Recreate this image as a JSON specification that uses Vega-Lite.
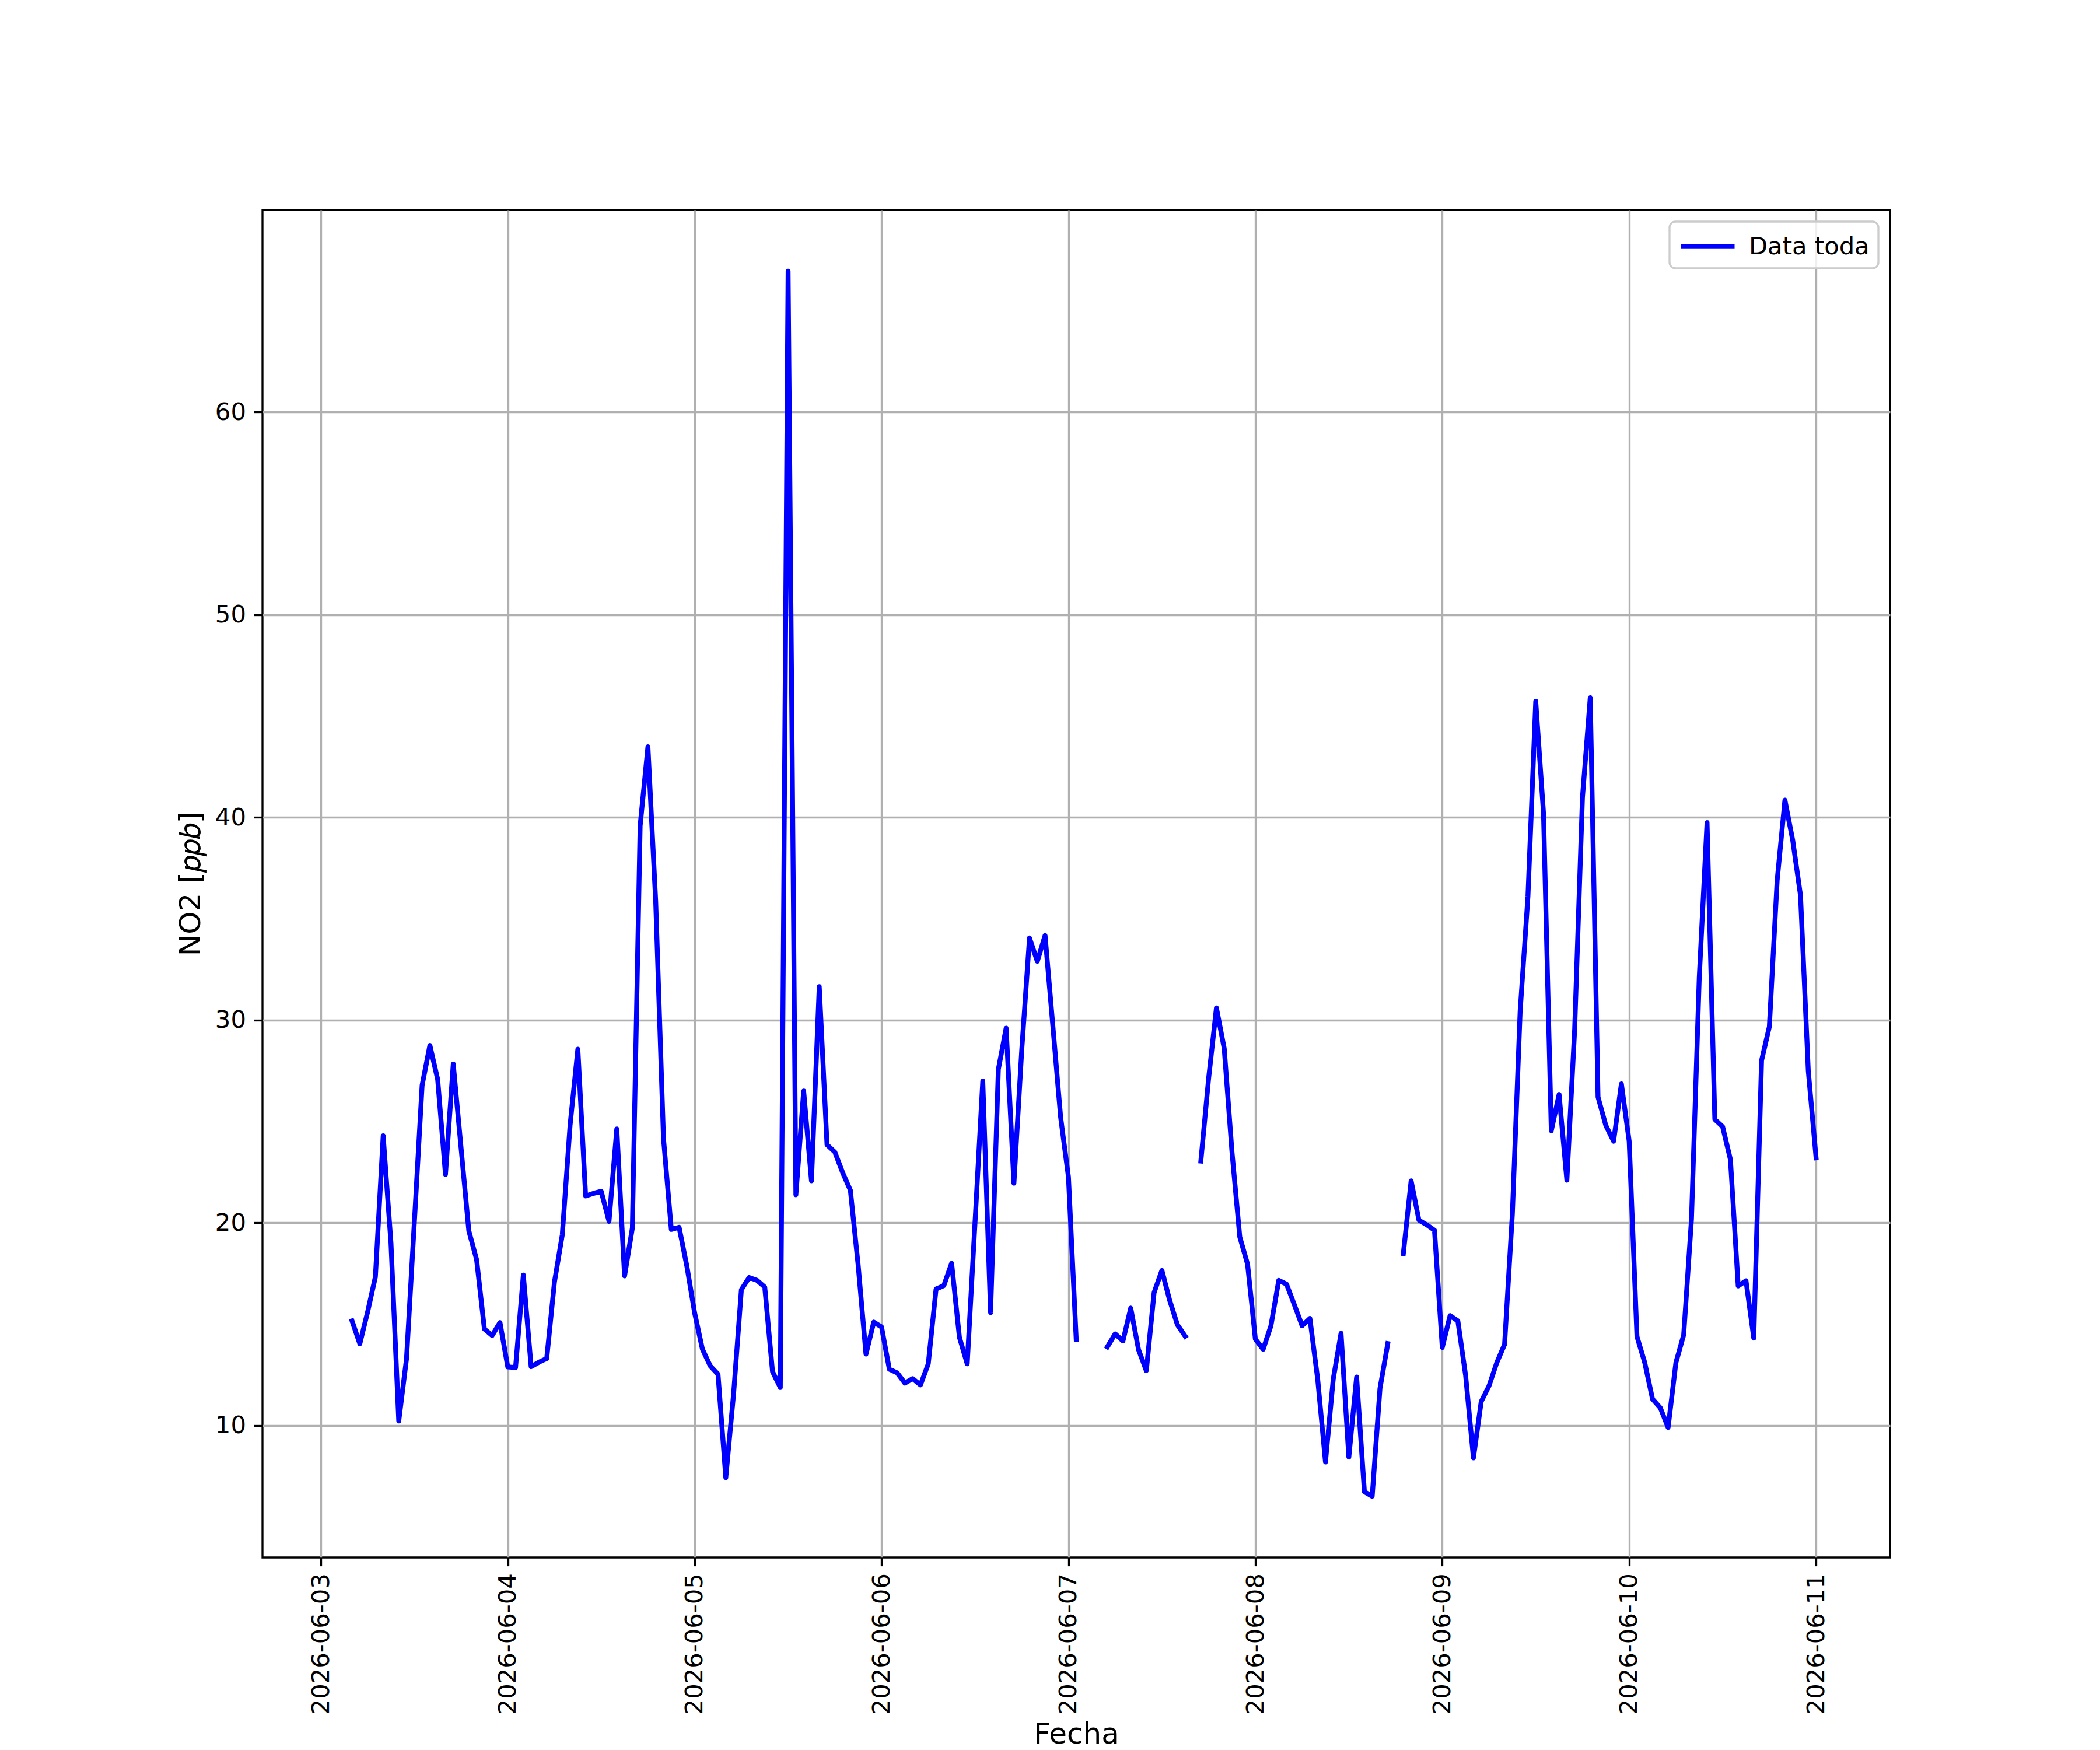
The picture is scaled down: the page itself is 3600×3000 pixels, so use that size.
{
  "$schema": "https://vega.github.io/schema/vega-lite/v6.json",
  "width": 2790,
  "height": 2310,
  "autosize": {"type": "none"},
  "padding": {"left": 450, "top": 360, "right": 360, "bottom": 330},
  "background": "white",
  "data": {
    "values": [
      {"fecha": "2026-06-03T02:00", "no2": null},
      {"fecha": "2026-06-03T03:00", "no2": null},
      {"fecha": "2026-06-03T04:00", "no2": 15.16},
      {"fecha": "2026-06-03T05:00", "no2": 14.03},
      {"fecha": "2026-06-03T06:00", "no2": 15.6},
      {"fecha": "2026-06-03T07:00", "no2": 17.33},
      {"fecha": "2026-06-03T08:00", "no2": 24.29},
      {"fecha": "2026-06-03T09:00", "no2": 19.0},
      {"fecha": "2026-06-03T10:00", "no2": 10.22},
      {"fecha": "2026-06-03T11:00", "no2": 13.3},
      {"fecha": "2026-06-03T12:00", "no2": 20.0},
      {"fecha": "2026-06-03T13:00", "no2": 26.78},
      {"fecha": "2026-06-03T14:00", "no2": 28.75},
      {"fecha": "2026-06-03T15:00", "no2": 27.07},
      {"fecha": "2026-06-03T16:00", "no2": 22.38},
      {"fecha": "2026-06-03T17:00", "no2": 27.83},
      {"fecha": "2026-06-03T18:00", "no2": 23.7},
      {"fecha": "2026-06-03T19:00", "no2": 19.6},
      {"fecha": "2026-06-03T20:00", "no2": 18.18},
      {"fecha": "2026-06-03T21:00", "no2": 14.76},
      {"fecha": "2026-06-03T22:00", "no2": 14.44},
      {"fecha": "2026-06-03T23:00", "no2": 15.08},
      {"fecha": "2026-06-04T00:00", "no2": 12.89},
      {"fecha": "2026-06-04T01:00", "no2": 12.86},
      {"fecha": "2026-06-04T02:00", "no2": 17.42},
      {"fecha": "2026-06-04T03:00", "no2": 12.9},
      {"fecha": "2026-06-04T04:00", "no2": 13.12},
      {"fecha": "2026-06-04T05:00", "no2": 13.3},
      {"fecha": "2026-06-04T06:00", "no2": 17.09},
      {"fecha": "2026-06-04T07:00", "no2": 19.4},
      {"fecha": "2026-06-04T08:00", "no2": 24.8},
      {"fecha": "2026-06-04T09:00", "no2": 28.56},
      {"fecha": "2026-06-04T10:00", "no2": 21.32},
      {"fecha": "2026-06-04T11:00", "no2": 21.45},
      {"fecha": "2026-06-04T12:00", "no2": 21.55},
      {"fecha": "2026-06-04T13:00", "no2": 20.07},
      {"fecha": "2026-06-04T14:00", "no2": 24.63},
      {"fecha": "2026-06-04T15:00", "no2": 17.38},
      {"fecha": "2026-06-04T16:00", "no2": 19.74},
      {"fecha": "2026-06-04T17:00", "no2": 39.58},
      {"fecha": "2026-06-04T18:00", "no2": 43.48},
      {"fecha": "2026-06-04T19:00", "no2": 35.83},
      {"fecha": "2026-06-04T20:00", "no2": 24.15},
      {"fecha": "2026-06-04T21:00", "no2": 19.67},
      {"fecha": "2026-06-04T22:00", "no2": 19.78},
      {"fecha": "2026-06-04T23:00", "no2": 17.86},
      {"fecha": "2026-06-05T00:00", "no2": 15.55},
      {"fecha": "2026-06-05T01:00", "no2": 13.76},
      {"fecha": "2026-06-05T02:00", "no2": 12.94},
      {"fecha": "2026-06-05T03:00", "no2": 12.53},
      {"fecha": "2026-06-05T04:00", "no2": 7.43},
      {"fecha": "2026-06-05T05:00", "no2": 11.56},
      {"fecha": "2026-06-05T06:00", "no2": 16.7},
      {"fecha": "2026-06-05T07:00", "no2": 17.3},
      {"fecha": "2026-06-05T08:00", "no2": 17.16},
      {"fecha": "2026-06-05T09:00", "no2": 16.83},
      {"fecha": "2026-06-05T10:00", "no2": 12.66},
      {"fecha": "2026-06-05T11:00", "no2": 11.87},
      {"fecha": "2026-06-05T12:00", "no2": 66.94},
      {"fecha": "2026-06-05T13:00", "no2": 21.38},
      {"fecha": "2026-06-05T14:00", "no2": 26.5},
      {"fecha": "2026-06-05T15:00", "no2": 22.07},
      {"fecha": "2026-06-05T16:00", "no2": 31.65},
      {"fecha": "2026-06-05T17:00", "no2": 23.85},
      {"fecha": "2026-06-05T18:00", "no2": 23.49},
      {"fecha": "2026-06-05T19:00", "no2": 22.48},
      {"fecha": "2026-06-05T20:00", "no2": 21.6},
      {"fecha": "2026-06-05T21:00", "no2": 17.9},
      {"fecha": "2026-06-05T22:00", "no2": 13.52},
      {"fecha": "2026-06-05T23:00", "no2": 15.1},
      {"fecha": "2026-06-06T00:00", "no2": 14.86},
      {"fecha": "2026-06-06T01:00", "no2": 12.78},
      {"fecha": "2026-06-06T02:00", "no2": 12.6},
      {"fecha": "2026-06-06T03:00", "no2": 12.09},
      {"fecha": "2026-06-06T04:00", "no2": 12.31},
      {"fecha": "2026-06-06T05:00", "no2": 12.0},
      {"fecha": "2026-06-06T06:00", "no2": 13.04},
      {"fecha": "2026-06-06T07:00", "no2": 16.73},
      {"fecha": "2026-06-06T08:00", "no2": 16.9},
      {"fecha": "2026-06-06T09:00", "no2": 18.0},
      {"fecha": "2026-06-06T10:00", "no2": 14.35},
      {"fecha": "2026-06-06T11:00", "no2": 13.04},
      {"fecha": "2026-06-06T12:00", "no2": 20.0},
      {"fecha": "2026-06-06T13:00", "no2": 26.99},
      {"fecha": "2026-06-06T14:00", "no2": 15.57},
      {"fecha": "2026-06-06T15:00", "no2": 27.57},
      {"fecha": "2026-06-06T16:00", "no2": 29.6},
      {"fecha": "2026-06-06T17:00", "no2": 21.95},
      {"fecha": "2026-06-06T18:00", "no2": 28.5},
      {"fecha": "2026-06-06T19:00", "no2": 34.05},
      {"fecha": "2026-06-06T20:00", "no2": 32.9},
      {"fecha": "2026-06-06T21:00", "no2": 34.17},
      {"fecha": "2026-06-06T22:00", "no2": 29.7},
      {"fecha": "2026-06-06T23:00", "no2": 25.2},
      {"fecha": "2026-06-07T00:00", "no2": 22.26},
      {"fecha": "2026-06-07T01:00", "no2": 14.23},
      {"fecha": "2026-06-07T02:00", "no2": null},
      {"fecha": "2026-06-07T03:00", "no2": null},
      {"fecha": "2026-06-07T04:00", "no2": null},
      {"fecha": "2026-06-07T05:00", "no2": 13.88},
      {"fecha": "2026-06-07T06:00", "no2": 14.52},
      {"fecha": "2026-06-07T07:00", "no2": 14.17},
      {"fecha": "2026-06-07T08:00", "no2": 15.79},
      {"fecha": "2026-06-07T09:00", "no2": 13.74},
      {"fecha": "2026-06-07T10:00", "no2": 12.7},
      {"fecha": "2026-06-07T11:00", "no2": 16.56},
      {"fecha": "2026-06-07T12:00", "no2": 17.65},
      {"fecha": "2026-06-07T13:00", "no2": 16.17},
      {"fecha": "2026-06-07T14:00", "no2": 14.96},
      {"fecha": "2026-06-07T15:00", "no2": 14.4},
      {"fecha": "2026-06-07T16:00", "no2": null},
      {"fecha": "2026-06-07T17:00", "no2": 23.04},
      {"fecha": "2026-06-07T18:00", "no2": 27.13},
      {"fecha": "2026-06-07T19:00", "no2": 30.6},
      {"fecha": "2026-06-07T20:00", "no2": 28.6},
      {"fecha": "2026-06-07T21:00", "no2": 23.48},
      {"fecha": "2026-06-07T22:00", "no2": 19.3},
      {"fecha": "2026-06-07T23:00", "no2": 17.95},
      {"fecha": "2026-06-08T00:00", "no2": 14.26},
      {"fecha": "2026-06-08T01:00", "no2": 13.76},
      {"fecha": "2026-06-08T02:00", "no2": 14.92},
      {"fecha": "2026-06-08T03:00", "no2": 17.16},
      {"fecha": "2026-06-08T04:00", "no2": 16.97},
      {"fecha": "2026-06-08T05:00", "no2": 15.96},
      {"fecha": "2026-06-08T06:00", "no2": 14.92},
      {"fecha": "2026-06-08T07:00", "no2": 15.28},
      {"fecha": "2026-06-08T08:00", "no2": 12.29},
      {"fecha": "2026-06-08T09:00", "no2": 8.2},
      {"fecha": "2026-06-08T10:00", "no2": 12.29},
      {"fecha": "2026-06-08T11:00", "no2": 14.55},
      {"fecha": "2026-06-08T12:00", "no2": 8.44},
      {"fecha": "2026-06-08T13:00", "no2": 12.39},
      {"fecha": "2026-06-08T14:00", "no2": 6.73},
      {"fecha": "2026-06-08T15:00", "no2": 6.51},
      {"fecha": "2026-06-08T16:00", "no2": 11.83},
      {"fecha": "2026-06-08T17:00", "no2": 14.04},
      {"fecha": "2026-06-08T18:00", "no2": null},
      {"fecha": "2026-06-08T19:00", "no2": 18.48},
      {"fecha": "2026-06-08T20:00", "no2": 22.07},
      {"fecha": "2026-06-08T21:00", "no2": 20.13},
      {"fecha": "2026-06-08T22:00", "no2": 19.9},
      {"fecha": "2026-06-08T23:00", "no2": 19.63},
      {"fecha": "2026-06-09T00:00", "no2": 13.85},
      {"fecha": "2026-06-09T01:00", "no2": 15.42},
      {"fecha": "2026-06-09T02:00", "no2": 15.16},
      {"fecha": "2026-06-09T03:00", "no2": 12.46},
      {"fecha": "2026-06-09T04:00", "no2": 8.4},
      {"fecha": "2026-06-09T05:00", "no2": 11.18},
      {"fecha": "2026-06-09T06:00", "no2": 11.95},
      {"fecha": "2026-06-09T07:00", "no2": 13.1},
      {"fecha": "2026-06-09T08:00", "no2": 14.0},
      {"fecha": "2026-06-09T09:00", "no2": 20.43},
      {"fecha": "2026-06-09T10:00", "no2": 30.44},
      {"fecha": "2026-06-09T11:00", "no2": 36.1},
      {"fecha": "2026-06-09T12:00", "no2": 45.73},
      {"fecha": "2026-06-09T13:00", "no2": 40.2},
      {"fecha": "2026-06-09T14:00", "no2": 24.54},
      {"fecha": "2026-06-09T15:00", "no2": 26.33},
      {"fecha": "2026-06-09T16:00", "no2": 22.1},
      {"fecha": "2026-06-09T17:00", "no2": 29.55},
      {"fecha": "2026-06-09T18:00", "no2": 40.98},
      {"fecha": "2026-06-09T19:00", "no2": 45.9},
      {"fecha": "2026-06-09T20:00", "no2": 26.2},
      {"fecha": "2026-06-09T21:00", "no2": 24.8},
      {"fecha": "2026-06-09T22:00", "no2": 24.02},
      {"fecha": "2026-06-09T23:00", "no2": 26.85},
      {"fecha": "2026-06-10T00:00", "no2": 24.02},
      {"fecha": "2026-06-10T01:00", "no2": 14.39},
      {"fecha": "2026-06-10T02:00", "no2": 13.1},
      {"fecha": "2026-06-10T03:00", "no2": 11.3},
      {"fecha": "2026-06-10T04:00", "no2": 10.87},
      {"fecha": "2026-06-10T05:00", "no2": 9.9},
      {"fecha": "2026-06-10T06:00", "no2": 13.1},
      {"fecha": "2026-06-10T07:00", "no2": 14.47},
      {"fecha": "2026-06-10T08:00", "no2": 20.17},
      {"fecha": "2026-06-10T09:00", "no2": 32.1},
      {"fecha": "2026-06-10T10:00", "no2": 39.74},
      {"fecha": "2026-06-10T11:00", "no2": 25.1},
      {"fecha": "2026-06-10T12:00", "no2": 24.74},
      {"fecha": "2026-06-10T13:00", "no2": 23.12},
      {"fecha": "2026-06-10T14:00", "no2": 16.88},
      {"fecha": "2026-06-10T15:00", "no2": 17.14},
      {"fecha": "2026-06-10T16:00", "no2": 14.31},
      {"fecha": "2026-06-10T17:00", "no2": 28.0},
      {"fecha": "2026-06-10T18:00", "no2": 29.67},
      {"fecha": "2026-06-10T19:00", "no2": 36.87},
      {"fecha": "2026-06-10T20:00", "no2": 40.85},
      {"fecha": "2026-06-10T21:00", "no2": 38.87},
      {"fecha": "2026-06-10T22:00", "no2": 36.15},
      {"fecha": "2026-06-10T23:00", "no2": 27.49},
      {"fecha": "2026-06-11T00:00", "no2": 23.2}
    ]
  },
  "mark": {
    "type": "line",
    "strokeWidth": 8.33,
    "strokeCap": "square",
    "strokeJoin": "round",
    "invalid": "break-paths-show-domains"
  },
  "encoding": {
    "x": {
      "field": "fecha",
      "type": "temporal",
      "scale": {
        "domain": [
          {"year": 2026, "month": 6, "date": 2, "hours": 16, "minutes": 30},
          {"year": 2026, "month": 6, "date": 11, "hours": 9, "minutes": 30}
        ],
        "nice": false
      },
      "axis": {
        "title": "Fecha",
        "format": "%Y-%m-%d",
        "tickCount": {"interval": "day", "step": 1},
        "labelAngle": -90,
        "labelAlign": "right",
        "labelBaseline": "middle",
        "labelPadding": 12,
        "labelLimit": 2000,
        "titleBaseline": "alphabetic",
        "titleY": 318
      }
    },
    "y": {
      "field": "no2",
      "type": "quantitative",
      "scale": {"domain": [3.49, 69.96], "nice": false, "zero": false},
      "axis": {
        "title": "NO2 [𝑝𝑝𝑏]",
        "values": [10, 20, 30, 40, 50, 60],
        "labelPadding": 14
      }
    },
    "color": {
      "datum": "Data toda",
      "type": "nominal",
      "scale": {"range": ["#0000ff"]},
      "legend": {
        "title": null,
        "orient": "top-right",
        "offset": 20,
        "symbolType": "M-2,0H2",
        "symbolSize": 2116,
        "symbolStrokeWidth": 8.33,
        "symbolOffset": 23,
        "labelOffset": 43,
        "labelLimit": 2000,
        "padding": 15,
        "strokeColor": "#cccccc",
        "fillColor": "rgba(255,255,255,0.8)",
        "cornerRadius": 10
      }
    }
  },
  "config": {
    "font": "DejaVu Sans",
    "view": {"stroke": "black", "strokeWidth": 3.33},
    "axis": {
      "domain": false,
      "grid": true,
      "gridColor": "#b0b0b0",
      "gridWidth": 3.33,
      "tickColor": "black",
      "tickSize": 14.6,
      "tickWidth": 3.33,
      "labelFont": "DejaVu Sans",
      "labelFontSize": 41.7,
      "labelColor": "black",
      "titleFont": "DejaVu Sans",
      "titleFontSize": 50,
      "titleFontWeight": "normal",
      "titleColor": "black",
      "titlePadding": 16
    },
    "legend": {
      "labelFont": "DejaVu Sans",
      "labelFontSize": 41.7,
      "labelColor": "black",
      "strokeWidth": 3.33
    }
  }
}
